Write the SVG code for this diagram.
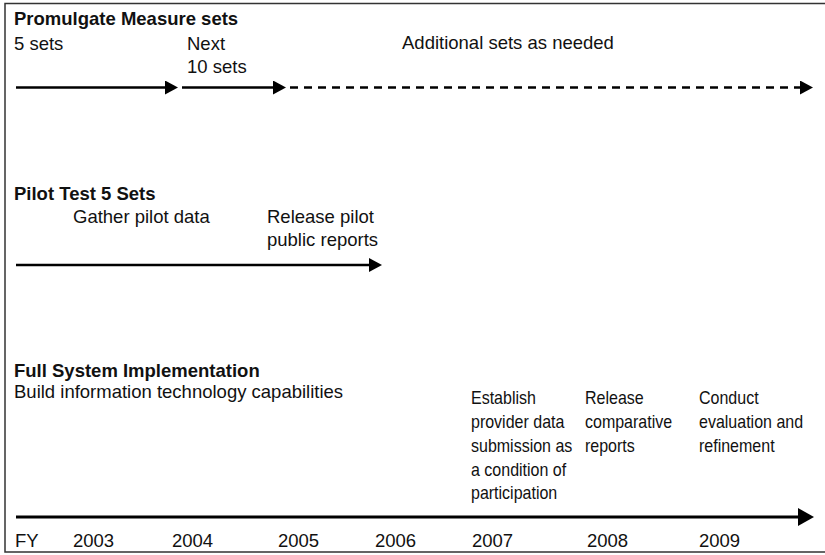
<svg xmlns="http://www.w3.org/2000/svg" width="825" height="555" viewBox="0 0 825 555">
  <style>
    text { font-family: "Liberation Sans", Arial, sans-serif; font-size: 18.5px; fill: #111; }
    .head { font-weight: bold; }
    .narrow { font-size: 18px; }
    .line { stroke: #000; stroke-width: 2.6; fill: none; }
    .axis { stroke: #000; stroke-width: 3; fill: none; }
    .dash { stroke-dasharray: 8 6; }
    .frame { stroke: #333; stroke-width: 1.5; fill: none; }
  </style>
  <defs>
    <marker id="tip" markerUnits="userSpaceOnUse" markerWidth="14" markerHeight="14" refX="1" refY="7" orient="auto">
      <path d="M0,0 L13,7 L0,14 z" fill="#000"/>
    </marker>
    <marker id="tipBig" markerUnits="userSpaceOnUse" markerWidth="16" markerHeight="18" refX="1" refY="9" orient="auto">
      <path d="M0,0 L16,9 L0,18 z" fill="#000"/>
    </marker>
  </defs>

  <!-- open frame: top, left and bottom edges -->
  <path class="frame" d="M830,3.5 H5 V552 H830"/>

  <!-- Section: Promulgate Measure sets -->
  <g id="promulgate">
    <text class="head" x="14" y="25">Promulgate Measure sets</text>
    <text x="14" y="50">5 sets</text>
    <text x="187" y="50">Next</text>
    <text x="187" y="73">10 sets</text>
    <text x="402" y="49">Additional sets as needed</text>
  </g>

  <!-- Section: Pilot Test -->
  <g id="pilot">
    <text class="head" x="14" y="200">Pilot Test 5 Sets</text>
    <text x="73" y="223">Gather pilot data</text>
    <text x="267" y="223">Release pilot</text>
    <text x="267" y="246">public reports</text>
  </g>

  <!-- Section: Full System Implementation -->
  <g id="full-system">
    <text class="head" x="14" y="377">Full System Implementation</text>
    <text x="14" y="398">Build information technology capabilities</text>
  </g>

  <g id="establish" transform="translate(471,0) scale(0.89,1)">
    <text class="narrow" x="0" y="404">Establish</text>
    <text class="narrow" x="0" y="428">provider data</text>
    <text class="narrow" x="0" y="452">submission as</text>
    <text class="narrow" x="0" y="476">a condition of</text>
    <text class="narrow" x="0" y="499">participation</text>
  </g>
  <g id="release-reports" transform="translate(585,0) scale(0.89,1)">
    <text class="narrow" x="0" y="404">Release</text>
    <text class="narrow" x="0" y="428">comparative</text>
    <text class="narrow" x="0" y="452">reports</text>
  </g>
  <g id="evaluate" transform="translate(699,0) scale(0.89,1)">
    <text class="narrow" x="0" y="404">Conduct</text>
    <text class="narrow" x="0" y="428">evaluation and</text>
    <text class="narrow" x="0" y="452">refinement</text>
  </g>

  <!-- Fiscal year axis labels -->
  <g id="years">
    <text x="15" y="547">FY</text>
    <text x="73" y="547">2003</text>
    <text x="172" y="547">2004</text>
    <text x="278" y="547">2005</text>
    <text x="375" y="547">2006</text>
    <text x="472" y="547">2007</text>
    <text x="587" y="547">2008</text>
    <text x="699" y="547">2009</text>
  </g>

  <!-- Connectors -->
  <g id="connectors">
    <line class="line" x1="16" y1="87.5" x2="166" y2="87.5" marker-end="url(#tip)"/>
    <line class="line" x1="182" y1="87.5" x2="274" y2="87.5" marker-end="url(#tip)"/>
    <line class="line dash" x1="290" y1="87.5" x2="801" y2="87.5" marker-end="url(#tip)"/>
    <line class="line" x1="16" y1="265" x2="370" y2="265" marker-end="url(#tip)"/>
    <line class="axis" x1="16" y1="517" x2="799" y2="517" marker-end="url(#tipBig)"/>
  </g>
</svg>
